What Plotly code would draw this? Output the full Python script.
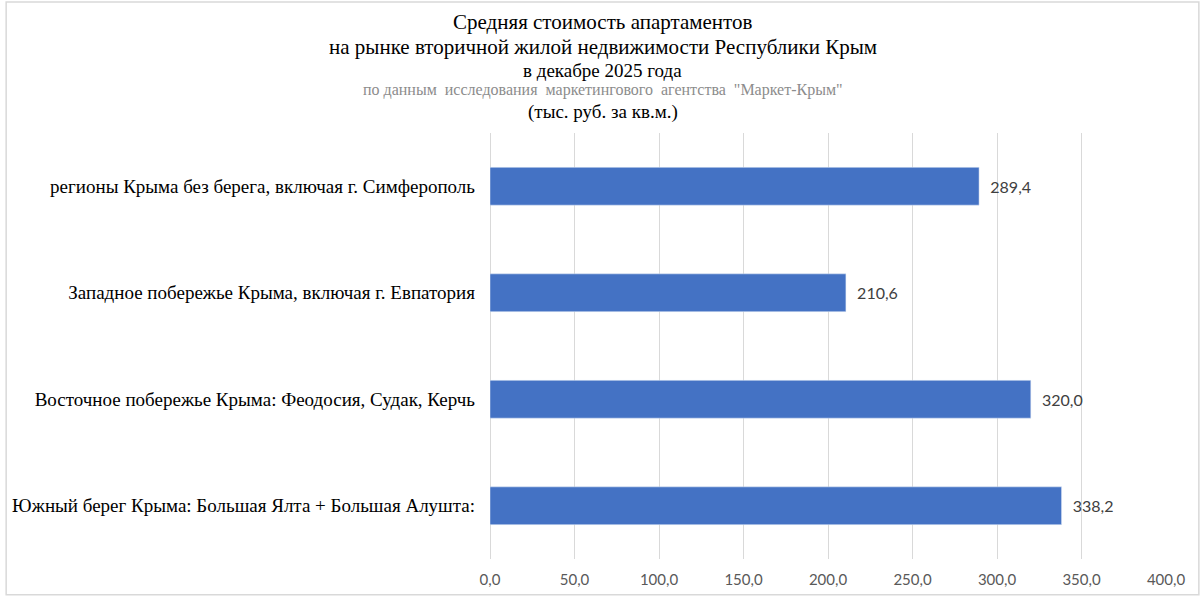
import plotly.graph_objects as go

# Данные (сверху вниз, как на графике)
regions = [
    "регионы Крыма без берега, включая г. Симферополь",
    "Западное побережье Крыма, включая г. Евпатория",
    "Восточное побережье Крыма: Феодосия, Судак, Керчь",
    "Южный берег Крыма: Большая Ялта + Большая Алушта:",
]
price = [289.4, 210.6, 320.0, 338.2]

title_lines = [
    "Средняя стоимость апартаментов",
    "на рынке вторичной жилой недвижимости Республики Крым",
    "в декабре 2025 года",
    'по данным  исследования  маркетингового  агентства  "Маркет-Крым"',
    "(тыс. руб. за кв.м.)",
]

W, H = 1200, 600
L, R, T, B = 487, 34, 133, 38
pw, ph = W - L - R, H - T - B

def px_x(x):
    return (x - L) / pw

def px_y(y):
    return (H - B - y) / ph

fig = go.Figure(go.Bar(
    x=price, y=regions, orientation="h",
    marker_color="#4472C4", width=0.355,
    texttemplate="\u00a0\u00a0%{x:.1f}", textposition="outside",
    textfont=dict(family="Lato", size=16, color="#404040"),
    cliponaxis=False,
))

fig.update_layout(
    width=W, height=H,
    margin=dict(l=L, r=R, t=T, b=B),
    paper_bgcolor="white", plot_bgcolor="white",
    separators=", ",
    showlegend=False,
)
fig.update_xaxes(
    range=[0, 400], dtick=50, tickformat=".1f",
    showgrid=True, gridcolor="#d9d9d9", gridwidth=1,
    zeroline=True, zerolinecolor="#d9d9d9", zerolinewidth=1,
    showline=False, ticks="",
    tickfont=dict(family="Lato", size=15, color="#595959"),
    ticklabelstandoff=10,
)
fig.update_yaxes(
    autorange="reversed", showgrid=False, showline=False, ticks="",
    tickfont=dict(family="Liberation Serif", size=19, color="#000000"),
    ticklabelstandoff=14,
)

# заголовок построчно
styles = [
    (21, 21, "#000000"),
    (46, 21, "#000000"),
    (70, 19, "#000000"),
    (90, 16, "#8c8c8c"),
    (112, 19, "#000000"),
]
for text, (yy, sz, col) in zip(title_lines, styles):
    fig.add_annotation(
        text=text, xref="paper", yref="paper",
        x=px_x(600), y=px_y(yy), xanchor="center", yanchor="middle",
        showarrow=False,
        font=dict(family="Liberation Serif", size=sz, color=col),
    )

# рамка вокруг диаграммы
fig.add_shape(
    type="rect", xref="paper", yref="paper",
    x0=px_x(1), x1=px_x(W - 1), y0=px_y(H - 2), y1=px_y(1),
    line=dict(color="#d9d9d9", width=1.5), layer="below",
)

fig.write_html("out.html", config={"displayModeBar": False},
               post_script="document.body.style.margin='0';")
